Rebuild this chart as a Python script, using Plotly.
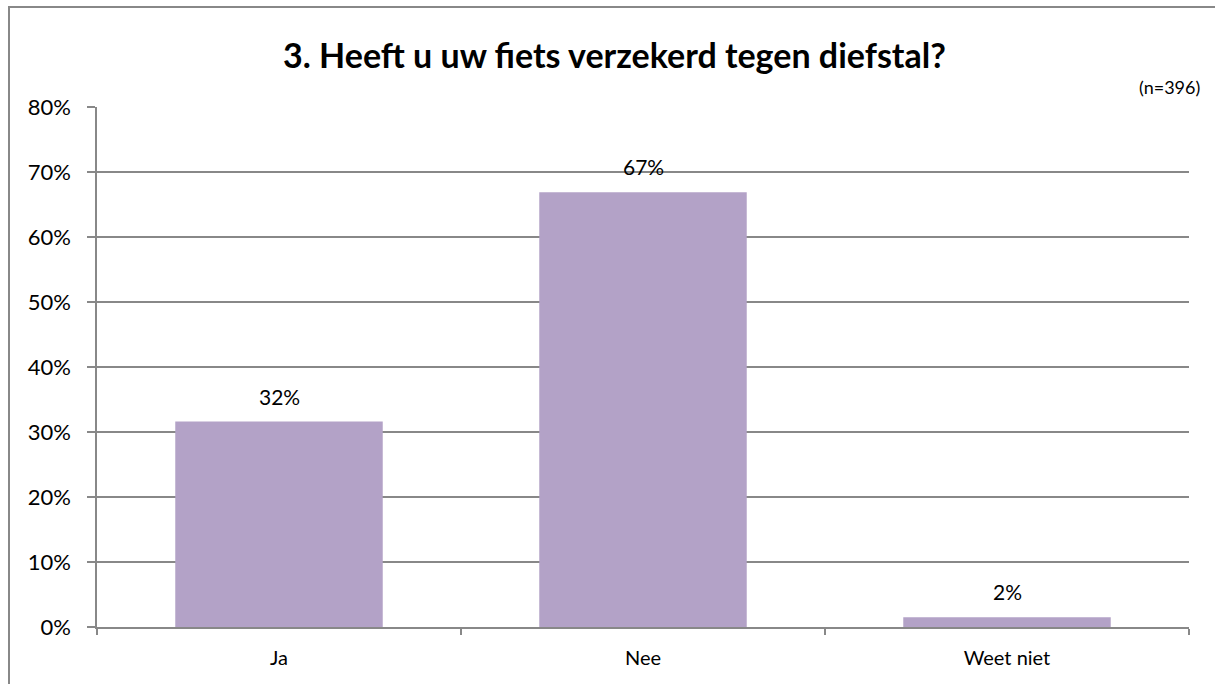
import plotly.graph_objects as go

categories = ["Ja", "Nee", "Weet niet"]
values = [31.6, 66.9, 1.5]
labels = ["32%", "67%", "2%"]
y_ticks = [0, 10, 20, 30, 40, 50, 60, 70, 80]
y_tick_text = ["0%", "10%", "20%", "30%", "40%", "50%", "60%", "70%", "80%"]
title_text = "3. Heeft u uw fiets verzekerd tegen diefstal?"
n_text = "(n=396)"

W, H = 1215, 684
L, R, T, B = 97, 26, 107, 57
pw, ph = W - L - R, H - T - B
FONT = "Lato, Carlito, 'Open Sans', sans-serif"

fig = go.Figure()
fig.add_trace(go.Bar(
    x=categories, y=values,
    marker=dict(color="#B3A2C7", line=dict(width=0)),
    width=0.57,
    hoverinfo="skip",
))

for c, v, t in zip(categories, values, labels):
    fig.add_annotation(x=c, y=v, text=t, showarrow=False, yanchor="bottom",
                       yshift=11, font=dict(size=21, color="#000000", family=FONT))

fig.add_annotation(xref="paper", yref="paper", x=(614 - L) / pw, y=1 + (107 - 55) / ph,
                   text="<b>" + title_text + "</b>", showarrow=False,
                   xanchor="center", yanchor="middle",
                   font=dict(size=34, color="#000000", family=FONT))
fig.add_annotation(xref="paper", yref="paper", x=(1202 - L) / pw, y=1 + (107 - 87) / ph,
                   text=n_text, showarrow=False, xanchor="right", yanchor="middle",
                   font=dict(size=18, color="#000000", family=FONT))

# outer chart border
fig.add_shape(type="rect", xref="paper", yref="paper",
              x0=(9 - L) / pw, x1=(1240 - L) / pw,
              y0=1 + (107 - 7) / ph, y1=-(720 - (H - B)) / ph,
              line=dict(color="#888888", width=2), layer="below")

fig.update_layout(
    width=W, height=H,
    margin=dict(l=L, r=R, t=T, b=B),
    paper_bgcolor="white", plot_bgcolor="white",
    showlegend=False,
    bargap=0.43,
    font=dict(family=FONT, color="#000000"),
    xaxis=dict(
        type="category", tickson="boundaries", ticks="outside", ticklen=6,
        tickcolor="#888888", tickwidth=1.5,
        showline=True, linecolor="#888888", linewidth=1.5,
        tickfont=dict(size=20, color="#000000", family=FONT),
        ticklabelstandoff=12,
        showgrid=False, range=[-0.5, 2.5],
    ),
    yaxis=dict(
        range=[0, 80], tickmode="array", tickvals=y_ticks, ticktext=y_tick_text,
        ticks="outside", ticklen=8, tickcolor="#888888", tickwidth=1.5,
        showline=True, linecolor="#888888", linewidth=1.5,
        showgrid=True, gridcolor="#888888", gridwidth=1.5,
        zeroline=False,
        ticklabelstandoff=12,
        tickfont=dict(size=22, color="#000000", family=FONT),
    ),
)

fig.write_html("out.html", config={"displayModeBar": False},
               post_script="document.body.style.margin='0px';document.body.style.overflow='hidden';")
